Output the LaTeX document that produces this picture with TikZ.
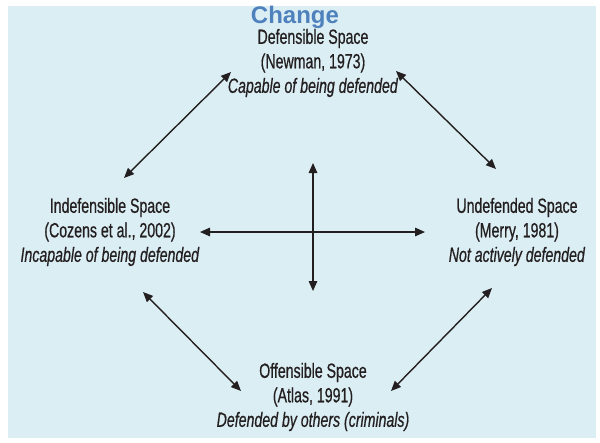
\documentclass[tikz,border=0pt]{standalone}
\usepackage{fontspec}
\setmainfont{Liberation Sans}[FakeStretch=0.69, FakeBold=0.6]
\newfontfamily\headfont{Liberation Sans}
\usetikzlibrary{arrows.meta,positioning}
\definecolor{bgblue}{HTML}{DBEEF4}
\definecolor{headblue}{HTML}{4F81BD}
\definecolor{ink}{HTML}{231F20}
\tikzset{
	space diagram/.style={
		x=1pt, y=-1pt,
		every node/.style={text=ink}},
	space/.style={align=center, inner sep=0pt,
		font=\fontsize{20.5}{24.5}\selectfont},
	heading/.style={inner sep=0pt, text=headblue, text depth=0pt,
		font=\headfont\bfseries\fontsize{24}{28}\selectfont},
	twoway/.style={{Triangle[length=10pt,width=8.5pt]}-{Triangle[length=10pt,width=8.5pt]},
		draw=ink, line width=1.4pt}
}

\begin{document}
\begin{tikzpicture}[space diagram]
	\useasboundingbox (0,0) rectangle (600,442);
	\fill[bgblue] (8,6) rectangle (596,438);
	\node[heading] (change) at (295,15) {Change};
	\node[space] (defensible) at (313,63)
		{Defensible Space\\(Newman, 1973)\\\textit{Capable of being defended}};
	\node[space] (indefensible) at (110,232)
		{Indefensible Space\\(Cozens et al., 2002)\\\textit{Incapable of being defended}};
	\node[space] (undefended) at (517,232)
		{Undefended Space\\(Merry, 1981)\\\textit{Not actively defended}};
	\node[space] (offensible) at (313,397)
		{Offensible Space\\(Atlas, 1991)\\\textit{Defended by others (criminals)}};
	% arrow ends
	\coordinate (ul-a) at (124,178);  \coordinate (ul-b) at (231,72);
	\coordinate (ur-a) at (396,71);   \coordinate (ur-b) at (496,169);
	\coordinate (ll-a) at (143,292);  \coordinate (ll-b) at (241,391);
	\coordinate (lr-a) at (492,288);  \coordinate (lr-b) at (391,391);
	\coordinate (mid-n) at (313,163); \coordinate (mid-s) at (313,291);
	\coordinate (mid-w) at (200,232); \coordinate (mid-e) at (425,232);
	\draw[twoway] (ul-a) -- (ul-b);
	\draw[twoway] (ur-a) -- (ur-b);
	\draw[twoway] (ll-a) -- (ll-b);
	\draw[twoway] (lr-a) -- (lr-b);
	\draw[twoway] (mid-n) -- (mid-s);
	\draw[twoway] (mid-w) -- (mid-e);
\end{tikzpicture}
\end{document}
